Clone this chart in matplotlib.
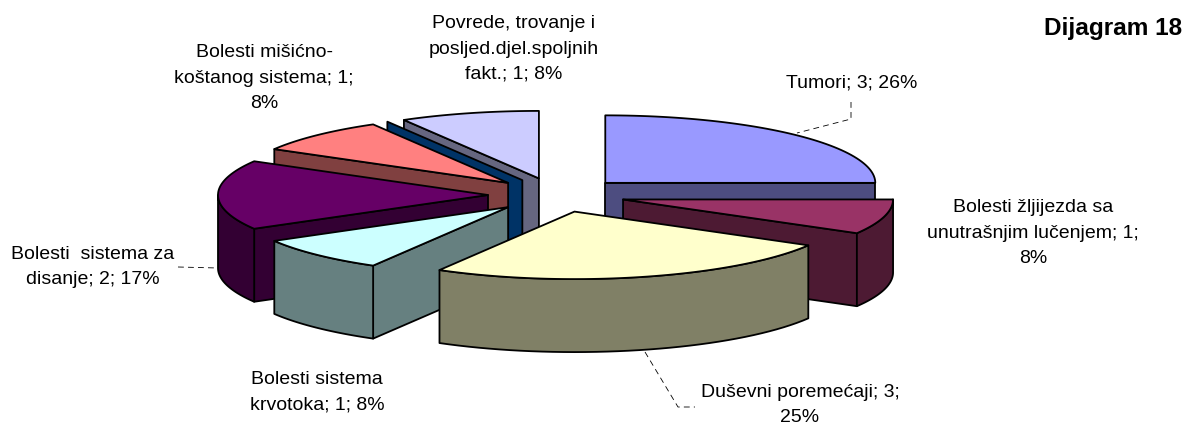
import numpy as np
import matplotlib
matplotlib.use("Agg")
import matplotlib.pyplot as plt
from matplotlib.patches import Polygon

plt.rcParams["font.family"] = ["Liberation Sans", "DejaVu Sans"]

# datos del diagrama (la septima porcion vale 0 y no lleva etiqueta)
valores = [3, 1, 3, 1, 2, 1, 0, 1]
etiquetas = [
    "Tumori; 3; 26%",
    "Bolesti žljijezda sa\nunutrašnjim lučenjem; 1;\n8%",
    "Duševni poremećaji; 3;\n25%",
    "Bolesti sistema\nkrvotoka; 1; 8%",
    "Bolesti  sistema za\ndisanje; 2; 17%",
    "Bolesti mišićno-\nkoštanog sistema; 1;\n8%",
    "",
    "Povrede, trovanje i\nposljed.djel.spoljnih\nfakt.; 1; 8%",
]
colores_top = ["#9999FF", "#993366", "#FFFFCC", "#CCFFFF", "#660066", "#FF8080", "#0066CC", "#CCCCFF"]
colores_lado = ["#4D4D80", "#4D1A33", "#808066", "#668080", "#330033", "#804040", "#003366", "#666680"]
titulo = "Dijagram 18"

# geometria del pastel en pixeles
CX, CY = 556.7, 195.0
RX, RY = 270.0, 67.5
EXPLODE = 68.7
ALTO = 73.0
LW = 1.3


def punto(ox, oy, ang, rx=RX, ry=RY):
    # angulo en grados, horario desde arriba
    t = np.radians(ang)
    return ox + rx * np.sin(t), oy - ry * np.cos(t)


def cara(ax, pts, color, z):
    ax.add_patch(Polygon(pts, closed=True, facecolor=color, edgecolor="black",
                         linewidth=LW, joinstyle="round", zorder=z))


def porcion(ax, a0, a1, c_top, c_lado, z):
    ox, oy = punto(CX, CY, (a0 + a1) / 2, EXPLODE, EXPLODE * RY / RX)
    # cara radial inicial
    if 180 <= a0 < 360:
        x, y = punto(ox, oy, a0)
        cara(ax, [(ox, oy), (x, y), (x, y + ALTO), (ox, oy + ALTO)], c_lado, z)
    # cara radial final
    if 0 < a1 <= 180:
        x, y = punto(ox, oy, a1)
        cara(ax, [(ox, oy), (x, y), (x, y + ALTO), (ox, oy + ALTO)], c_lado, z)
    # borde exterior visible
    b0, b1 = max(a0, 90), min(a1, 270)
    if b1 > b0:
        xs, ys = punto(ox, oy, np.linspace(b0, b1, 40))
        pts = list(zip(xs, ys)) + list(zip(xs[::-1], ys[::-1] + ALTO))
        cara(ax, pts, c_lado, z)
    # tapa
    if a1 > a0:
        xs, ys = punto(ox, oy, np.linspace(a0, a1, 60))
        cara(ax, [(ox, oy)] + list(zip(xs, ys)), c_top, z + 0.5)


fig = plt.figure(figsize=(11.85, 4.25), dpi=100)
ax = fig.add_axes([0, 0, 1, 1])
ax.set_xlim(0, 1185)
ax.set_ylim(425, 0)
ax.axis("off")

angulos = np.cumsum([0] + valores) * 360 / sum(valores)
# orden de pintado: de atras hacia adelante
orden = [7, 6, 5, 4, 3, 0, 1, 2]
for z, i in enumerate(orden):
    porcion(ax, angulos[i], angulos[i + 1], colores_top[i], colores_lado[i], z + 1)

# lineas guia de las etiquetas
guias = [
    ([851, 851, 797], [102, 119, 133]),
    ([178, 218], [267, 268]),
    ([645, 678, 695], [352, 407, 407]),
]
for gx, gy in guias:
    ax.plot(gx, gy, color="black", lw=0.6, dashes=(7, 5), zorder=0.5)

pos_etiquetas = [(852, 83), (1033, 233), (800, 405), (317, 392), (93, 267), (264, 78), None, (514, 49)]
for txt, pos in zip(etiquetas, pos_etiquetas):
    if pos is None:
        continue
    ax.text(pos[0], pos[1], txt, ha="center", va="center", fontsize=14,
            linespacing=1.62, color="black", zorder=20)

ax.text(1182, 28, titulo, ha="right", va="center", fontsize=17.6, fontweight="bold", color="black")

fig.savefig("out.png", dpi=100)
